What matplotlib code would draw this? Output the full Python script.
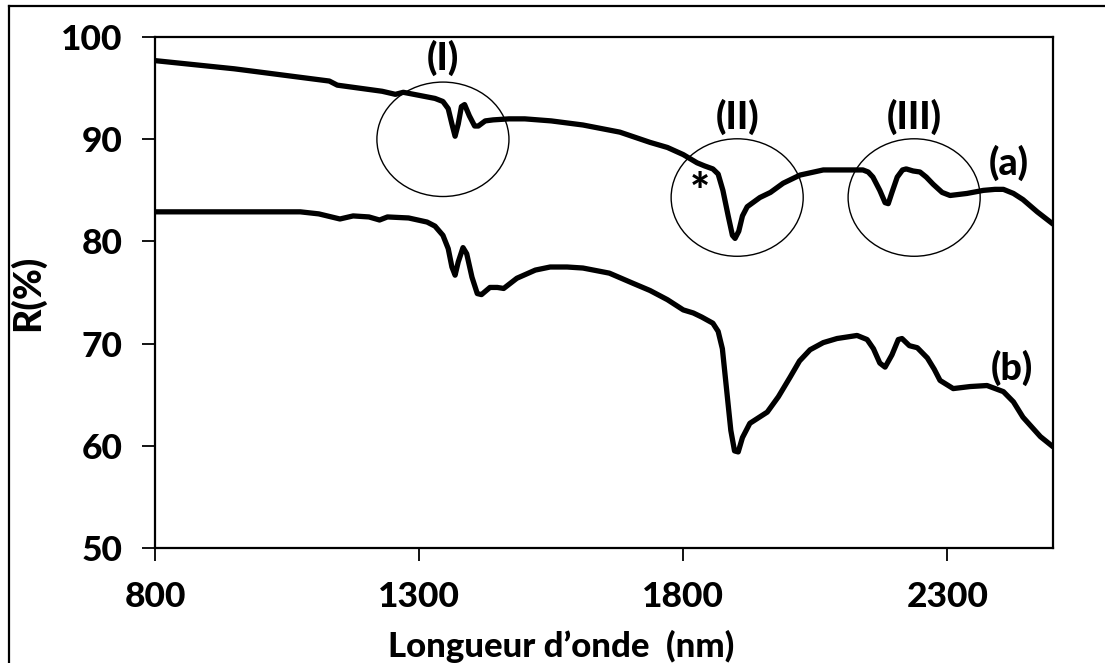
import matplotlib
matplotlib.use('Agg')
import matplotlib.pyplot as plt
from matplotlib.patches import Ellipse
from matplotlib.lines import Line2D

# spectre (a)
wl_a = [800, 950, 1100, 1130, 1145, 1230, 1255, 1270, 1300, 1330, 1345, 1355, 1362,
        1368, 1374, 1380, 1386, 1395, 1405, 1412, 1425, 1440, 1470, 1500, 1550, 1610,
        1680, 1737, 1770, 1800, 1826, 1840, 1856, 1866, 1875, 1885, 1893, 1898, 1905,
        1912, 1921, 1945, 1965, 1989, 2021, 2065, 2100, 2140, 2150, 2159, 2172, 2182,
        2188, 2195, 2205, 2215, 2222, 2235, 2248, 2260, 2273, 2290, 2305, 2337, 2368,
        2390, 2406, 2425, 2443, 2470, 2500]
R_a = [97.7, 96.9, 95.9, 95.7, 95.3, 94.7, 94.4, 94.6, 94.3, 94.0, 93.7, 93.0, 91.5,
       90.3, 91.5, 93.2, 93.4, 92.3, 91.3, 91.3, 91.8, 91.9, 92.0, 92.0, 91.8, 91.4,
       90.7, 89.7, 89.2, 88.5, 87.7, 87.4, 87.1, 86.6, 85.0, 82.5, 80.6, 80.3, 81.0,
       82.5, 83.4, 84.3, 84.8, 85.7, 86.5, 87.0, 87.0, 87.0, 86.8, 86.3, 85.0, 83.8,
       83.7, 84.8, 86.3, 87.0, 87.1, 86.9, 86.8, 86.3, 85.6, 84.8, 84.5, 84.7, 85.0,
       85.1, 85.1, 84.7, 84.1, 82.9, 81.7]

# spectre (b)
wl_b = [800, 1075, 1110, 1150, 1175, 1205, 1225, 1240, 1280, 1315, 1330, 1345, 1355,
        1362, 1368, 1374, 1383, 1390, 1400, 1410, 1418, 1434, 1448, 1460, 1485, 1520,
        1548, 1580, 1610, 1660, 1705, 1737, 1770, 1800, 1819, 1835, 1856, 1866, 1874,
        1882, 1890, 1897, 1904, 1912, 1926, 1959, 1980, 2002, 2020, 2040, 2065, 2091,
        2129, 2148, 2160, 2172, 2182, 2195, 2207, 2214, 2228, 2243, 2262, 2275, 2286,
        2311, 2343, 2375, 2406, 2425, 2443, 2476, 2500]
R_b = [82.9, 82.9, 82.7, 82.2, 82.5, 82.4, 82.1, 82.4, 82.3, 81.9, 81.5, 80.6, 79.3,
       77.5, 76.7, 78.0, 79.4, 78.8, 76.5, 74.9, 74.8, 75.5, 75.5, 75.4, 76.4, 77.2,
       77.5, 77.5, 77.4, 76.9, 75.9, 75.2, 74.3, 73.3, 73.0, 72.6, 72.0, 71.2, 69.5,
       65.5, 61.5, 59.5, 59.4, 60.8, 62.2, 63.3, 64.8, 66.7, 68.3, 69.4, 70.1, 70.5,
       70.8, 70.4, 69.5, 68.1, 67.7, 68.9, 70.4, 70.5, 69.8, 69.6, 68.6, 67.5, 66.4,
       65.6, 65.8, 65.9, 65.3, 64.3, 62.8, 60.9, 59.9]

# zones entourées
zone_labels = ['(I)', '(II)', '(III)']
zone_x = [1345, 1902, 2237]
zone_y = [90.0, 84.3, 84.3]
zone_label_y = [98.0, 92.2, 92.2]

xticks = [800, 1300, 1800, 2300]
yticks = [50, 60, 70, 80, 90, 100]

W = 'black'   # graisse du texte

plt.rcParams['font.family'] = ['Lato', 'DejaVu Sans']
plt.rcParams['font.weight'] = W

fig = plt.figure(figsize=(11.05, 6.63), dpi=100)
ax = fig.add_axes([0.1403, 0.1735, 0.8127, 0.7705])

ax.plot(wl_a, R_a, color='black', lw=3.8, solid_joinstyle='round', solid_capstyle='round')
ax.plot(wl_b, R_b, color='black', lw=3.8, solid_joinstyle='round', solid_capstyle='round')

for lab, cx, cy, ly in zip(zone_labels, zone_x, zone_y, zone_label_y):
    h = 11.2 if lab == '(I)' else 11.5
    ax.add_patch(Ellipse((cx, cy), 250, h, fill=False, ec='black', lw=1.0))
    ax.text(cx, ly, lab, ha='center', va='center', fontsize=27, fontweight=W)

ax.text(2417, 87.7, '(a)', ha='center', va='center', fontsize=27, fontweight=W)
ax.text(2422, 67.6, '(b)', ha='center', va='center', fontsize=27, fontweight=W)
ax.text(1832, 84.6, '*', ha='center', va='center', fontsize=34, fontweight=W)

ax.set_xlim(800, 2500)
ax.set_ylim(50, 100)
ax.set_xticks(xticks)
ax.set_yticks(yticks)
ax.tick_params(axis='both', direction='out', length=9.5, width=1.3, labelsize=25.5, pad=14)
for lbl in ax.get_xticklabels() + ax.get_yticklabels():
    lbl.set_fontweight(W)
for sp in ax.spines.values():
    sp.set_linewidth(1.6)

ax.set_xlabel('Longueur d\u2019onde  (nm)', fontsize=25, fontweight=W)
ax.xaxis.set_label_coords(0.452, -0.16)
ax.set_ylabel('R(%)', fontsize=27, fontweight=W)
ax.yaxis.set_label_coords(-0.122, 0.5)

# cadre autour de la figure (seuls les bords haut et gauche sont visibles)
fig.add_artist(Line2D([9 / 1105, 1.0], [1 - 6 / 663, 1 - 6 / 663], transform=fig.transFigure,
                      color='black', lw=1.6))
fig.add_artist(Line2D([9 / 1105, 9 / 1105], [0.0, 1 - 6 / 663], transform=fig.transFigure,
                      color='black', lw=1.6))

fig.savefig('out.png', dpi=100)
